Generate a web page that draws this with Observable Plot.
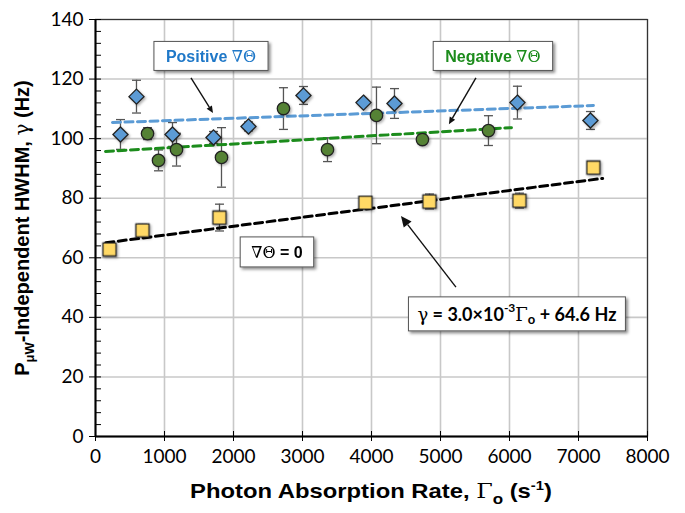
<!DOCTYPE html>
<html><head><meta charset="utf-8">
<script src="https://cdn.jsdelivr.net/npm/d3@7"></script>
<script src="https://cdn.jsdelivr.net/npm/@observablehq/plot@0.6"></script>
<style>
html,body{margin:0;padding:0;background:#fff;}
#chart{width:685px;height:513px;}
</style></head>
<body><div id="chart"></div>
<script>
// ---- data ----
const positiveX   = [362, 594, 1116, 1710, 2217, 3014, 3884, 4333, 6115, 7173];
const positiveY   = [101.4, 114.1, 101.4, 100.4, 104.1, 114.5, 112.1, 111.8, 112.1, 106.1];
const positiveErr = [5, 5.5, 4, 2, 1.5, 3, 1, 5, 5.5, 3];

const negativeX   = [754, 913, 1174, 1826, 2724, 3362, 4072, 4738, 5695];
const negativeY   = [101.7, 92.7, 96.3, 93.7, 110.1, 96.3, 107.8, 99.7, 102.7];
const negativeErr = [2, 3.5, 5.5, 10, 7, 4, 9.5, 1.5, 5];

const zeroX   = [203, 681, 1797, 3912, 4840, 6144, 7216];
const zeroY   = [62.8, 69.2, 73.5, 78.5, 78.9, 79.2, 90.3];
const zeroErr = [1, 2, 4.5, 1, 2.5, 2.5, 2];

// linear fits: [name, slope, intercept, xStart, xEnd]
const fitNames      = ["positive", "negative", "zero"];
const fitSlopes     = [8.2e-4, 1.36e-3, 3.0e-3];
const fitIntercepts = [105.2, 95.5, 64.6];
const fitStarts     = [246, 145, 150];
const fitEnds       = [7216, 6028, 7350];

const xTicks = [0,1000,2000,3000,4000,5000,6000,7000,8000];
const yTicks = [0,20,40,60,80,100,120,140];
const yMinorTicks = d3.range(0, 141, 4).filter(v => v % 20 !== 0);

// annotations (data coordinates)
const boxLabels = [
  {key:"pos", x:1681, y:127.6},
  {key:"neg", x:5767, y:127.6},
  {key:"zero", x:2637, y:61.8},
  {key:"eq", x:6115, y:41.0}
];
const arrows = [
  {x1:1391, y1:120.2, x2:1710, y2:108.4, head:7},
  {x1:5521, y1:120.2, x2:5129, y2:104.7, head:7},
  {x1:5231, y1:50.0,  x2:4434, y2:73.9,  head:11}
];

// ---- build tables ----
const mk = (xs, ys, es) => xs.map((x, i) => ({x, y: ys[i], e: es[i]}));
const pos = mk(positiveX, positiveY, positiveErr);
const neg = mk(negativeX, negativeY, negativeErr);
const zer = mk(zeroX, zeroY, zeroErr);
const all = [...pos, ...neg, ...zer];
const fits = fitNames.map((n, i) => [
  {name:n, x: fitStarts[i], y: fitSlopes[i]*fitStarts[i] + fitIntercepts[i]},
  {name:n, x: fitEnds[i],   y: fitSlopes[i]*fitEnds[i]   + fitIntercepts[i]}
]);
const fitColors = {positive:"#5b9bd5", negative:"#1c8c1c", zero:"#000"};

const capSymbol = {draw(ctx){ ctx.moveTo(-4.5,0); ctx.lineTo(4.5,0); }};

const plot = Plot.plot({
  width: 685, height: 513,
  marginLeft: 95, marginRight: 38, marginTop: 19, marginBottom: 77,
  style: {fontFamily: "Lato, sans-serif", fontSize: "19px", color: "#000", background: "#fff"},
  x: {domain: [0, 8000]},
  y: {domain: [0, 140]},
  marks: [
    Plot.gridX(xTicks, {stroke: "#c8c8c8", strokeOpacity: 1, strokeWidth: 1.6}),
    Plot.gridY(yTicks, {stroke: "#c8c8c8", strokeOpacity: 1, strokeWidth: 1.6}),
    Plot.frame({stroke: "#333", strokeWidth: 1.2}),
    Plot.axisX({ticks: xTicks, tickSize: 5, tickPadding: 8, tickFormat: d => String(d), label: null, fontSize: 19}),
    Plot.axisX({ticks: xTicks, tickSize: 5, dy: -5, text: null, label: null}),
    Plot.axisY({ticks: yTicks, tickSize: 6, tickPadding: 6, label: null, fontSize: 19}),
    Plot.axisY({ticks: yTicks, tickSize: 6, dx: 6, text: null, label: null}),
    Plot.axisY({ticks: yMinorTicks, tickSize: 6, dx: 6, text: null, label: null}),
    Plot.ruleX([0], {stroke: "#000", strokeWidth: 2}),
    Plot.ruleY([0], {stroke: "#000", strokeWidth: 2}),
    // error bars
    Plot.ruleX(all, {x: "x", y1: d => d.y - d.e, y2: d => d.y + d.e, stroke: "#555", strokeWidth: 1.3}),
    Plot.dot(all, {x: "x", y: d => d.y + d.e, symbol: capSymbol, fill: "none", stroke: "#555", strokeWidth: 1.3}),
    Plot.dot(all, {x: "x", y: d => d.y - d.e, symbol: capSymbol, fill: "none", stroke: "#555", strokeWidth: 1.3}),
    // fits
    ...fits.map(f => Plot.line(f, {x: "x", y: "y", stroke: fitColors[f[0].name], strokeWidth: 3, strokeDasharray: "8,4.5"})),
    // markers
    Plot.dot(zer, {x: "x", y: "y", symbol: "square", r: 7.4, fill: "#ffd966", stroke: "#222", strokeWidth: 1.3}),
    Plot.dot(neg, {x: "x", y: "y", symbol: "circle", r: 6.2, fill: "#548235", stroke: "#222", strokeWidth: 1.3}),
    Plot.dot(pos, {x: "x", y: "y", symbol: "diamond2", r: 6.8, fill: "#5b9bd5", stroke: "#222", strokeWidth: 1.3})
  ]
});
document.getElementById("chart").appendChild(plot);

// ---- annotations with the plot's own scales ----
const sx = plot.scale("x"), sy = plot.scale("y");
const svg = d3.select(plot);
const defs = svg.append("defs");
const sh = defs.append("filter").attr("id","sh").attr("x","-20%").attr("y","-20%").attr("width","150%").attr("height","160%");
sh.append("feDropShadow").attr("dx",2).attr("dy",2).attr("stdDeviation",1.6).attr("flood-color","#000").attr("flood-opacity",0.45);
const sh2 = defs.append("filter").attr("id","sh2").attr("x","-30%").attr("y","-30%").attr("width","170%").attr("height","170%");
sh2.append("feDropShadow").attr("dx",1.5).attr("dy",1.5).attr("stdDeviation",1).attr("flood-color","#000").attr("flood-opacity",0.3);
svg.selectAll('g[aria-label="dot"]').filter((d,i,n)=> i >= n.length - 3).attr("filter","url(#sh2)");

const ann = svg.append("g");
const serif = "'DejaVu Serif', 'Liberation Serif', serif";
function box(b, build, padX, h) {
  const cx = sx.apply(b.x), cy = sy.apply(b.y);
  const g = ann.append("g");
  const r = g.append("rect");
  const t = g.append("text").attr("x", cx).attr("y", cy).attr("text-anchor","middle")
    .attr("dominant-baseline","central").attr("font-weight","bold");
  build(t);
  const bb = t.node().getBBox();
  r.attr("x", cx - bb.width/2 - padX).attr("y", cy - h/2).attr("width", bb.width + 2*padX).attr("height", h)
   .attr("fill","#fff").attr("stroke","#555").attr("stroke-width",1).attr("filter","url(#sh)");
}
// arrows
arrows.forEach(a => {
  const x1 = sx.apply(a.x1), y1 = sy.apply(a.y1), x2 = sx.apply(a.x2), y2 = sy.apply(a.y2);
  const ang = Math.atan2(y2 - y1, x2 - x1), L = a.head, W = a.head*0.45;
  const bx = x2 - L*Math.cos(ang), by = y2 - L*Math.sin(ang);
  ann.append("line").attr("x1",x1).attr("y1",y1).attr("x2",bx).attr("y2",by).attr("stroke","#111").attr("stroke-width",1.4);
  ann.append("path").attr("d",`M${x2},${y2}L${bx + W*Math.sin(ang)},${by - W*Math.cos(ang)}L${bx - W*Math.sin(ang)},${by + W*Math.cos(ang)}Z`).attr("fill","#111");
});
const B = Object.fromEntries(boxLabels.map(b => [b.key, b]));
box(B.pos, t => {
  t.attr("font-family","'Liberation Sans', Arial, sans-serif").attr("font-size",16).attr("fill","#1f78c8");
  t.append("tspan").text("Positive ");
  t.append("tspan").attr("font-family", serif).attr("font-weight","normal").text("∇Θ");
}, 12, 29);
box(B.neg, t => {
  t.attr("font-family","'Liberation Sans', Arial, sans-serif").attr("font-size",16).attr("fill","#1c8c1c");
  t.append("tspan").text("Negative ");
  t.append("tspan").attr("font-family", serif).attr("font-weight","normal").text("∇Θ");
}, 12, 29);
box(B.zero, t => {
  t.attr("font-family","'Liberation Sans', Arial, sans-serif").attr("font-size",16).attr("fill","#000");
  t.append("tspan").attr("font-family", serif).attr("font-weight","normal").text("∇Θ");
  t.append("tspan").text(" = 0");
}, 11, 30);
box(B.eq, t => {
  t.attr("font-family","Lato, sans-serif").attr("font-size",18).attr("fill","#000");
  t.append("tspan").attr("font-family", serif).attr("font-weight","normal").text("γ");
  t.append("tspan").text(" = 3.0×10");
  t.append("tspan").attr("font-size",12).attr("dy",-7).text("-3");
  t.append("tspan").attr("font-family", serif).attr("font-weight","normal").attr("dy",7).text("Γ");
  t.append("tspan").attr("font-size",13).attr("dy",5).text("o");
  t.append("tspan").attr("dy",-5).text(" + 64.6 Hz");
}, 9, 34);

// axis labels
const bold = "'Liberation Sans', Arial, sans-serif";
const xl = svg.append("text").attr("x", (95 + 647)/2).attr("y", 498).attr("text-anchor","middle")
  .attr("font-family", bold).attr("font-weight","bold").attr("font-size",21).attr("fill","#000");
xl.append("tspan").text("Photon Absorption Rate, ");
xl.append("tspan").attr("font-family", serif).attr("font-weight","normal").text("Γ");
xl.append("tspan").attr("font-size",15).attr("dy",6).text("o");
xl.append("tspan").attr("dy",-6).text(" (s");
xl.append("tspan").attr("font-size",13).attr("dy",-8).text("-1");
xl.append("tspan").attr("dy",8).text(")");
{
  const w = xl.node().getBBox().width, target = 362, k = target / w;
  const cx = (95 + 647)/2;
  xl.attr("transform", `translate(${cx},0) scale(${k},1) translate(${-cx},0)`);
}

const yl = svg.append("text").attr("transform","translate(29,228) rotate(-90)").attr("text-anchor","middle")
  .attr("font-family", bold).attr("font-weight","bold").attr("font-size",20).attr("fill","#000");
yl.append("tspan").text("P");
yl.append("tspan").attr("font-size",13).attr("dy",5).text("μW");
yl.append("tspan").attr("dy",-5).text("-Independent HWHM, ");
yl.append("tspan").attr("font-family", serif).attr("font-weight","normal").text("γ");
yl.append("tspan").text(" (Hz)");
</script>
</body></html>
